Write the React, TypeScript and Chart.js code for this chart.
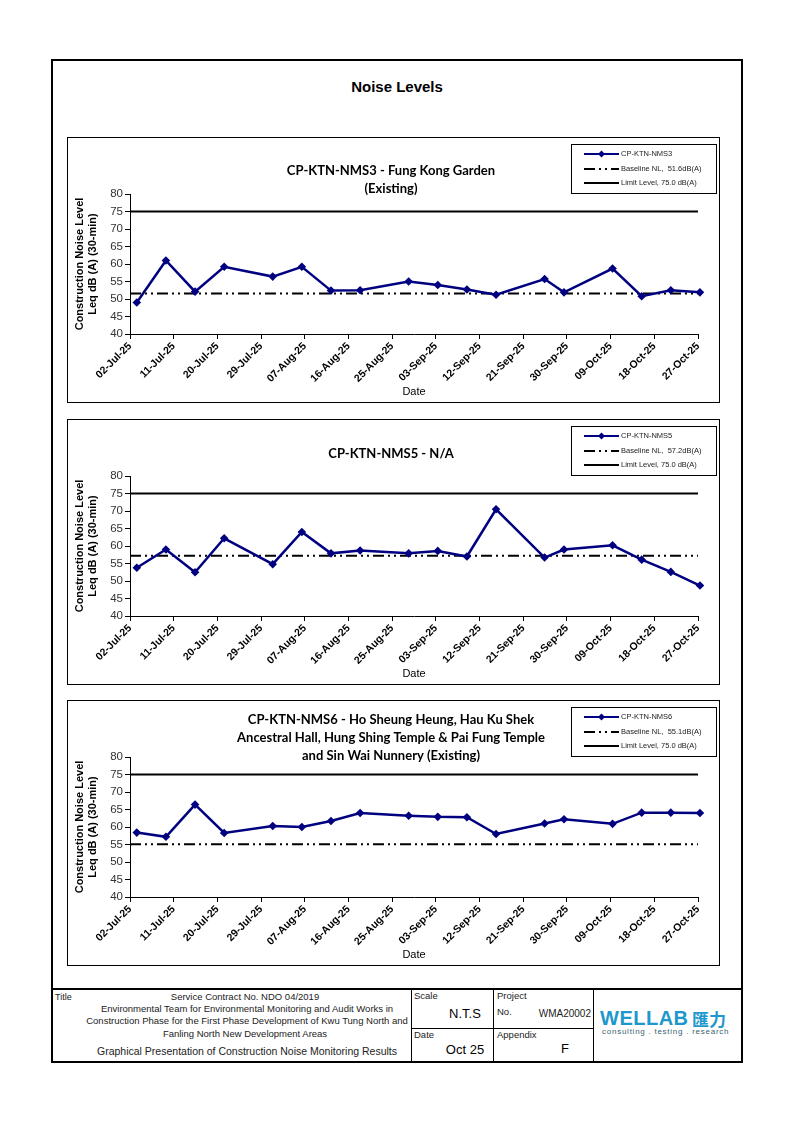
import React, { useEffect, useRef } from 'react';
import { Chart, registerables } from 'chart.js';

Chart.register(...registerables);

// ---------------- data ----------------
const tickLabels = [
  '02-Jul-25', '11-Jul-25', '20-Jul-25', '29-Jul-25', '07-Aug-25', '16-Aug-25', '25-Aug-25',
  '03-Sep-25', '12-Sep-25', '21-Sep-25', '30-Sep-25', '09-Oct-25', '18-Oct-25', '27-Oct-25',
];
// monitoring days, counted from 02-Jul-25
const sampleDays = [1, 7, 13, 19, 29, 35, 41, 47, 57, 63, 69, 75, 85, 89, 99, 105, 111, 117];
const timeOfDay = 0.4; // measurements taken around 10:00
const nms3Values = [49.0, 61.0, 52.1, 59.2, 56.4, 59.2, 52.4, 52.5, 55.0, 54.0, 52.7, 51.2, 55.7, 51.9, 58.7, 50.8, 52.5, 51.9];
const nms5Values = [53.8, 59.0, 52.5, 62.2, 54.8, 64.0, 57.9, 58.7, 57.9, 58.6, 57.0, 70.5, 56.7, 59.0, 60.2, 56.1, 52.6, 48.7];
const nms6Values = [58.4, 57.2, 66.4, 58.3, 60.3, 60.0, 61.7, 64.0, 63.2, 62.9, 62.8, 58.0, 61.0, 62.2, 60.9, 64.1, 64.1, 64.0];
const baselines = [51.6, 57.2, 55.1];
const limitLevel = 75.0;
const stations = ['CP-KTN-NMS3', 'CP-KTN-NMS5', 'CP-KTN-NMS6'];
const chartTitles = [
  ['CP-KTN-NMS3 - Fung Kong Garden', '(Existing)'],
  ['CP-KTN-NMS5 - N/A'],
  ['CP-KTN-NMS6 - Ho Sheung Heung, Hau Ku Shek', 'Ancestral Hall, Hung Shing Temple & Pai Fung Temple', 'and Sin Wai Nunnery (Existing)'],
];
const baselineLabels = ['Baseline NL,  51.6dB(A)', 'Baseline NL,  57.2dB(A)', 'Baseline NL,  55.1dB(A)'];
const limitLabel = 'Limit Level, 75.0 dB(A)';
const xMin = 0;
const xMax = 117;
const xStep = 9;
const yMin = 40;
const yMax = 80;
const yStep = 5;

// ---------------- layout ----------------
const CW = 653;
const CH = 266;
const PLOT_LEFT = 63;
const PLOT_RIGHT = 631;
const PLOT_TOP = 57;
const PLOT_BOTTOM = 197;
const BOTTOM_PAD = 3;
const AXIS_FONT = 'Liberation Sans';
const SERIES_COLOR = '#000080';
const BASE_DASH = [11, 4, 2, 4, 2, 4];

type ChartProps = {
  top: number;
  idx: number;
  values: number[];
  titleY: number;
};

function NoiseChart({ top, idx, values, titleY }: ChartProps) {
  const ref = useRef<HTMLCanvasElement | null>(null);

  useEffect(() => {
    if (!ref.current) return;
    const title = chartTitles[idx];
    const legendTexts = [stations[idx], baselineLabels[idx], limitLabel];

    const decorPlugin = {
      id: 'decor',
      afterDraw(chart: any) {
        const ctx = chart.ctx as CanvasRenderingContext2D;
        ctx.save();
        // chart title
        ctx.fillStyle = '#000';
        ctx.font = 'bold 13px Lato';
        ctx.textAlign = 'center';
        ctx.textBaseline = 'middle';
        title.forEach((t, i) => ctx.fillText(t, 324, titleY + i * 18));

        // legend box
        const bx = 504, by = 7, bw = 145, bh = 49;
        ctx.fillStyle = '#fff';
        ctx.fillRect(bx, by, bw, bh);
        ctx.strokeStyle = '#000';
        ctx.lineWidth = 1;
        ctx.setLineDash([]);
        ctx.strokeRect(bx + 0.5, by + 0.5, bw, bh);

        const rows = [by + 10, by + 25, by + 39];
        const sx0 = bx + 13, sx1 = bx + 48;
        const ds = chart.data.datasets;
        rows.forEach((ry, i) => {
          const d = ds[i];
          ctx.beginPath();
          ctx.strokeStyle = d.borderColor;
          ctx.lineWidth = 2;
          ctx.setLineDash(d.borderDash || []);
          ctx.moveTo(sx0, ry);
          ctx.lineTo(sx1, ry);
          ctx.stroke();
          ctx.setLineDash([]);
          if (i === 0) {
            const cx = (sx0 + sx1) / 2;
            ctx.fillStyle = d.borderColor;
            ctx.beginPath();
            ctx.moveTo(cx, ry - 3.5);
            ctx.lineTo(cx + 3.5, ry);
            ctx.lineTo(cx, ry + 3.5);
            ctx.lineTo(cx - 3.5, ry);
            ctx.closePath();
            ctx.fill();
          }
          ctx.fillStyle = '#222';
          ctx.font = `7.5px ${AXIS_FONT}`;
          ctx.textAlign = 'left';
          ctx.textBaseline = 'middle';
          ctx.fillText(legendTexts[i], sx1 + 2, ry);
        });
        ctx.restore();
      },
    };

    const gridCfg = {
      display: true,
      drawOnChartArea: false,
      drawTicks: true,
      tickLength: 5,
      color: '#000',
      lineWidth: 1,
    };
    const borderCfg = { display: true, color: '#000', width: 1 };

    const chart = new Chart(ref.current, {
      type: 'line',
      data: {
        datasets: [
          {
            label: stations[idx],
            data: sampleDays.map((d, i) => ({ x: d + timeOfDay, y: values[i] })),
            borderColor: SERIES_COLOR,
            backgroundColor: SERIES_COLOR,
            borderWidth: 2.5,
            pointStyle: 'rectRot',
            pointRadius: 4.3,
            pointBorderWidth: 0,
            pointBackgroundColor: SERIES_COLOR,
            tension: 0,
            clip: 8,
            order: 0,
          } as any,
          {
            label: baselineLabels[idx],
            data: [
              { x: xMin, y: baselines[idx] },
              { x: xMax, y: baselines[idx] },
            ],
            borderColor: '#000',
            borderWidth: 2,
            borderDash: BASE_DASH,
            pointRadius: 0,
            order: 1,
          },
          {
            label: limitLabel,
            data: [
              { x: xMin, y: limitLevel },
              { x: xMax, y: limitLevel },
            ],
            borderColor: '#000',
            borderWidth: 2,
            pointRadius: 0,
            order: 2,
          },
        ],
      },
      options: {
        responsive: false,
        animation: false,
        events: [],
        layout: { padding: { top: PLOT_TOP, right: CW - PLOT_RIGHT, bottom: BOTTOM_PAD, left: 0 } },
        plugins: {
          legend: { display: false },
          title: { display: false },
          tooltip: { enabled: false },
        },
        scales: {
          x: {
            type: 'linear',
            min: xMin,
            max: xMax,
            afterFit: (s: any) => {
              s.height = CH - PLOT_BOTTOM - BOTTOM_PAD;
            },
            ticks: {
              stepSize: xStep,
              autoSkip: false,
              minRotation: 45,
              maxRotation: 45,
              padding: 1,
              color: '#000',
              font: { family: AXIS_FONT, size: 10.5, weight: 'bold' },
              callback: (v: any) => tickLabels[Math.round((Number(v) - xMin) / xStep)] ?? '',
            },
            grid: gridCfg,
            border: borderCfg,
            title: {
              display: true,
              text: 'Date',
              color: '#000',
              font: { family: AXIS_FONT, size: 11 },
              padding: { top: 0, bottom: 1 },
            },
          },
          y: {
            min: yMin,
            max: yMax,
            afterFit: (s: any) => {
              s.width = PLOT_LEFT;
            },
            ticks: {
              stepSize: yStep,
              padding: 2,
              color: '#333',
              font: { family: AXIS_FONT, size: 11.5 },
            },
            grid: gridCfg,
            border: borderCfg,
            title: {
              display: true,
              text: ['Construction Noise Level', 'Leq dB (A) (30-min)'],
              color: '#000',
              font: { family: AXIS_FONT, size: 11, weight: 'bold' },
              padding: { top: 6, bottom: 0 },
            },
          },
        },
      } as any,
      plugins: [decorPlugin],
    });
    return () => chart.destroy();
  }, [idx, values, titleY]);

  return (
    <>
      <canvas
        ref={ref}
        width={CW}
        height={CH}
        style={{ position: 'absolute', left: 67, top, width: CW, height: CH }}
      />
      <div
        style={{
          position: 'absolute',
          left: 67,
          top,
          width: CW,
          height: CH,
          border: '1px solid #000',
          boxSizing: 'border-box',
          pointerEvents: 'none',
        }}
      />
    </>
  );
}

type TProps = {
  x: number;
  y: number;
  size: number;
  align?: 'left' | 'center' | 'right';
  bold?: boolean;
  color?: string;
  family?: string;
  spacing?: number;
  weight?: number;
  children: React.ReactNode;
};

function T({ x, y, size, align = 'left', bold, color = '#222', family = AXIS_FONT, spacing = 0, weight, children }: TProps) {
  const tx = align === 'center' ? '-50%' : align === 'right' ? '-100%' : '0';
  return (
    <div
      style={{
        position: 'absolute',
        left: x,
        top: y,
        transform: `translate(${tx}, -50%)`,
        fontSize: size,
        lineHeight: 1,
        fontWeight: weight ?? (bold ? 'bold' : 'normal'),
        color,
        fontFamily: family,
        letterSpacing: spacing,
        whiteSpace: 'nowrap',
      }}
    >
      {children}
    </div>
  );
}

function Line({ x, y, w, h }: { x: number; y: number; w: number; h: number }) {
  return <div style={{ position: 'absolute', left: x, top: y, width: w, height: h, background: '#000' }} />;
}

export default function App() {
  return (
    <div
      style={{
        position: 'absolute',
        left: 0,
        top: 0,
        width: 794,
        height: 1123,
        background: '#fff',
        fontFamily: AXIS_FONT,
        overflow: 'hidden',
      }}
    >
      {/* outer frame */}
      <div
        style={{
          position: 'absolute',
          left: 51,
          top: 59,
          width: 692,
          height: 1004,
          border: '2px solid #000',
          boxSizing: 'border-box',
        }}
      />
      <T x={397} y={86} size={15} bold align="center" color="#000">
        Noise Levels
      </T>

      <NoiseChart top={137} idx={0} values={nms3Values} titleY={34} />
      <NoiseChart top={419} idx={1} values={nms5Values} titleY={35} />
      <NoiseChart top={700} idx={2} values={nms6Values} titleY={20} />

      {/* footer table */}
      <Line x={51} y={988} w={692} h={2} />
      <Line x={411} y={989} w={1} h={73} />
      <Line x={493} y={989} w={1} h={73} />
      <Line x={593} y={989} w={1} h={73} />
      <Line x={411} y={1028} w={182} h={1} />

      <T x={55} y={997} size={9}>Title</T>
      <T x={245} y={997} size={9.5} align="center">Service Contract No. NDO 04/2019</T>
      <T x={247} y={1009} size={9.5} align="center">Environmental Team for Environmental Monitoring and Audit Works in</T>
      <T x={247} y={1021} size={9.5} align="center">Construction Phase for the First Phase Development of Kwu Tung North and</T>
      <T x={245} y={1034} size={9.5} align="center">Fanling North New Development Areas</T>
      <T x={247} y={1051} size={10.5} align="center">Graphical Presentation of Construction Noise Monitoring Results</T>

      <T x={414} y={996} size={9.5}>Scale</T>
      <T x={465} y={1013} size={13} align="center" color="#000">N.T.S</T>
      <T x={414} y={1035} size={9.5}>Date</T>
      <T x={465} y={1049} size={13} align="center" color="#000">Oct 25</T>

      <T x={497} y={996} size={9.5}>Project</T>
      <T x={497} y={1012} size={9.5}>No.</T>
      <T x={591} y={1014} size={10} align="right">WMA20002</T>
      <T x={497} y={1035} size={9.5}>Appendix</T>
      <T x={565} y={1048} size={13} align="center" color="#000">F</T>

      <T x={600} y={1018} size={20} weight={900} color="#1e98cc" family="Liberation Sans" spacing={0.5}>
        WELLAB
      </T>
      <T x={692} y={1018} size={17} bold color="#1e98cc" family="Noto Sans CJK TC">
        匯力
      </T>
      <T x={602} y={1032} size={8} color="#3b5f6e" spacing={0.75}>
        consulting . testing . research
      </T>
    </div>
  );
}
